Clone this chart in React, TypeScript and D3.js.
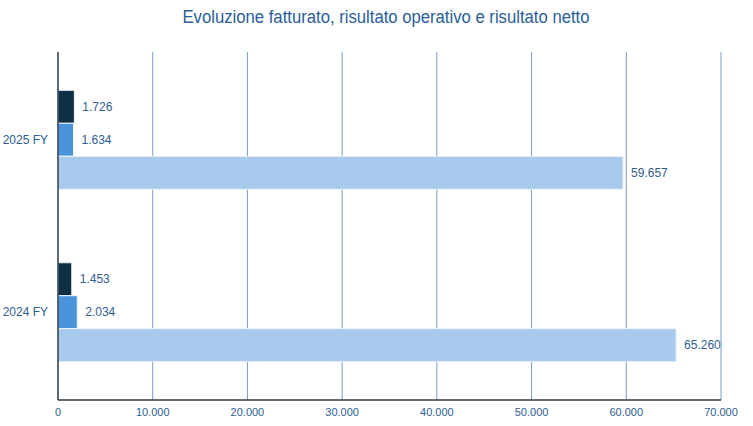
import * as d3 from "d3";

// anni (dall'alto verso il basso)
const categories = ["2025 FY", "2024 FY"];
// serie, nell'ordine in cui compaiono dentro ogni gruppo
const seriesNames = ["Risultato netto", "Risultato operativo", "Fatturato"];
const risultatoNetto = [1726, 1453];
const risultatoOperativo = [1634, 2034];
const fatturato = [59657, 65260];
const xTicks = [0, 10000, 20000, 30000, 40000, 50000, 60000, 70000];

const seriesValues = [risultatoNetto, risultatoOperativo, fatturato];
const seriesColors = ["#0e2f44", "#4a93da", "#a7caec"];

const fmt = d3.formatLocale({
  decimal: ",",
  thousands: ".",
  grouping: [3],
  currency: ["€", ""],
}).format(",");

export default function App() {
  const W = 753;
  const H = 426;
  const margin = { top: 52, right: 32, bottom: 26, left: 58 };
  const width = W - margin.left - margin.right;
  const height = H - margin.top - margin.bottom;

  const x = d3.scaleLinear().domain([0, 70000]).range([0, width]);
  const y = d3
    .scaleBand()
    .domain(categories)
    .range([0, height])
    .paddingInner(0.426)
    .paddingOuter(0.222);
  const yInner = d3
    .scaleBand()
    .domain(seriesNames)
    .range([0, y.bandwidth()]);

  const textColor = "#2f5e90";
  const font = "'Liberation Sans', Arial, sans-serif";

  return (
    <svg
      width={W}
      height={H}
      style={{ position: "absolute", left: 0, top: 0, background: "#fff" }}
    >
      <text
        x={386}
        y={23}
        textAnchor="middle"
        fontFamily="'Liberation Sans Narrow', 'Liberation Sans', Arial, sans-serif"
        fontSize={18}
        fill="#2a5d99"
        textLength={407}
        lengthAdjust="spacingAndGlyphs"
      >
        Evoluzione fatturato, risultato operativo e risultato netto
      </text>
      <g transform={`translate(${margin.left},${margin.top})`}>
        {xTicks.slice(1).map((t) => (
          <line
            key={`grid-${t}`}
            x1={x(t)}
            x2={x(t)}
            y1={0}
            y2={height}
            stroke="#7b9cc4"
            strokeWidth={1}
          />
        ))}
        {categories.map((c, ci) =>
          seriesNames.map((s, si) => {
            const v = seriesValues[si][ci];
            const by = (y(c) ?? 0) + (yInner(s) ?? 0);
            return (
              <g key={`${c}-${s}`}>
                <rect
                  x={0}
                  y={by}
                  width={x(v)}
                  height={yInner.bandwidth()}
                  fill={seriesColors[si]}
                  stroke="#eef4fb"
                  strokeWidth={1}
                />
                <text
                  x={x(v) + 8}
                  y={by + yInner.bandwidth() / 2}
                  dy="0.35em"
                  fontFamily={font}
                  fontSize={12}
                  fill={textColor}
                >
                  {fmt(v)}
                </text>
              </g>
            );
          })
        )}
        {categories.map((c) => (
          <text
            key={`cat-${c}`}
            x={-10}
            y={(y(c) ?? 0) + y.bandwidth() / 2}
            dy="0.35em"
            textAnchor="end"
            fontFamily={font}
            fontSize={12}
            fill={textColor}
          >
            {c}
          </text>
        ))}
        <line x1={0} x2={0} y1={0} y2={height} stroke="#2b3a44" strokeWidth={1.5} />
        <line x1={0} x2={width} y1={height} y2={height} stroke="#2b3a44" strokeWidth={1.5} />
        {xTicks.map((t) => (
          <text
            key={`tick-${t}`}
            x={x(t)}
            y={height + 12}
            dy="0.35em"
            textAnchor="middle"
            fontFamily={font}
            fontSize={11}
            fill={textColor}
          >
            {fmt(t)}
          </text>
        ))}
      </g>
    </svg>
  );
}
